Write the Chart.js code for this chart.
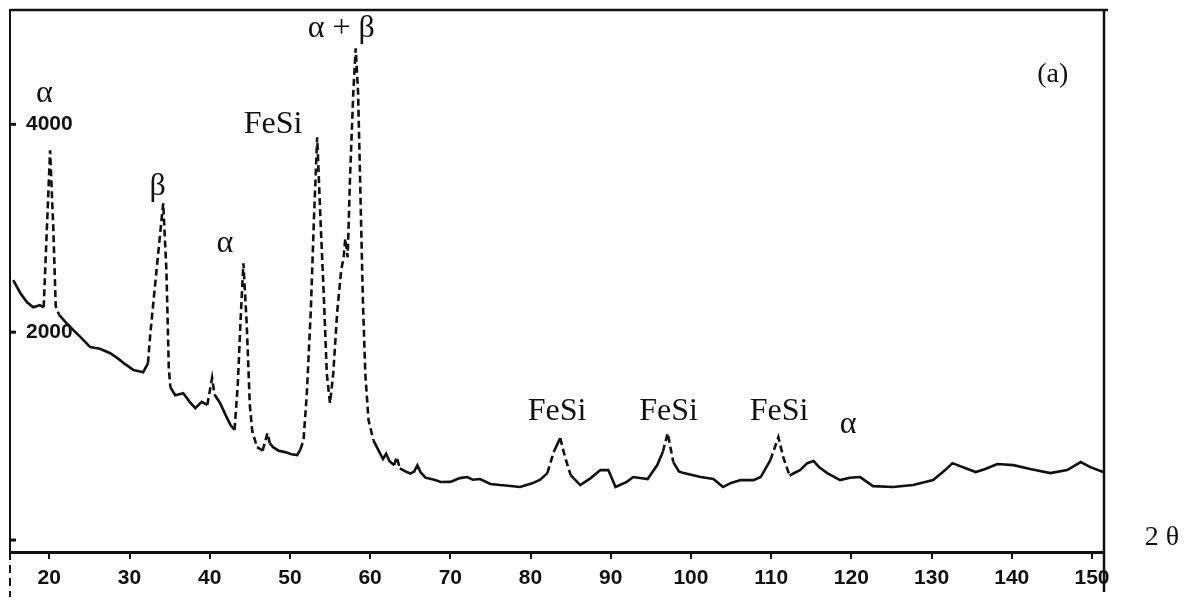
<!DOCTYPE html>
<html>
<head>
<meta charset="utf-8">
<script src="https://cdn.jsdelivr.net/npm/chart.js@4/dist/chart.umd.min.js"></script>
<style>
  html, body { margin: 0; padding: 0; background: #fff; }
  #grafico { display: block; }
</style>
</head>
<body>
<canvas id="grafico" width="1192" height="602"></canvas>
<script>
// difractograma (a): 2θ contra intensidad (cuentas)
const twoTheta = [
  15.5, 16.4, 17.2, 18.0, 18.8, 19.3, 19.7, 20.1, 20.5, 20.8, 21.2, 22.0, 23.0, 23.9, 25.1,
  26.3, 27.6, 28.5, 29.5, 30.5, 31.7, 32.3, 32.6, 33.4, 34.2, 34.6, 34.9, 35.1, 35.7, 36.7,
  37.5, 38.2, 39.0, 39.7, 40.3, 40.6, 41.3, 42.0, 42.6, 43.1, 43.5, 43.9, 44.2, 44.6, 45.0,
  45.3, 45.9, 46.6, 47.2, 47.5, 47.9, 48.6, 49.4, 50.2, 50.9, 51.3, 51.7, 52.1, 52.6, 53.0,
  53.4, 53.8, 54.2, 54.6, 55.0, 55.4, 55.9, 56.4, 56.7, 56.9, 57.2, 57.5, 57.9, 58.2, 58.5,
  58.8, 59.1, 59.4, 59.8, 60.4, 61.0, 61.6, 62.0, 62.4, 63.0, 63.3, 63.7, 64.4, 65.0, 65.5,
  65.9, 66.3, 66.9, 68.0, 68.8, 70.0, 71.2, 72.1, 72.8, 73.7, 75.0, 76.2, 77.5, 78.7, 80.3,
  81.2, 82.1, 82.9, 83.7, 84.3, 85.0, 86.2, 87.5, 88.7, 89.7, 90.6, 92.0, 92.8, 94.6, 95.8,
  96.5, 97.1, 97.8, 98.5, 99.1, 101.2, 102.8, 104.0, 105.0, 106.2, 107.8, 108.7, 109.9, 110.9, 111.5,
  112.3, 113.0, 113.6, 114.5, 115.3, 116.0, 117.0, 118.6, 119.8, 121.1, 122.7, 125.2, 127.7, 130.2, 131.7,
  132.6, 134.5, 135.5, 136.7, 138.2, 140.2, 142.3, 144.8, 146.9, 148.6, 149.8, 151.4
];
const counts = [
  2500, 2375, 2290, 2240, 2260, 2240, 3000, 3750, 3000, 2250, 2170, 2100, 2020, 1952, 1856,
  1840, 1798, 1750, 1690, 1635, 1615, 1700, 1990, 2620, 3240, 2600, 1650, 1470, 1394, 1413,
  1330, 1269, 1330, 1300, 1560, 1400, 1317, 1200, 1106, 1060, 1500, 2200, 2663, 2100, 1300,
  1050, 894, 860, 1029, 930, 894, 860, 846, 825, 817, 870, 962, 1400, 2200, 3100,
  3875, 3100, 2400, 1600, 1317, 1600, 2200, 2600, 2721, 2900, 2721, 3500, 4300, 4731, 4300,
  3300, 2300, 1600, 1154, 962, 870, 780, 830, 760, 720, 800, 690, 660, 640, 660,
  720, 650, 600, 580, 558, 560, 596, 606, 580, 587, 540, 529, 520, 510, 548,
  580, 644, 850, 981, 800, 625, 529, 596, 673, 673, 510, 560, 606, 587, 721,
  850, 1029, 750, 660, 644, 606, 587, 510, 550, 577, 577, 606, 769, 990, 800,
  620, 650, 673, 740, 760, 700, 644, 577, 600, 606, 519, 510, 529, 577, 673,
  740, 683, 654, 683, 731, 721, 683, 644, 673, 750, 702, 654
];

// etiquetas de los picos (centro en 2θ, línea base en cuentas)
const etiquetas = ['α', 'β', 'α', 'FeSi', 'α + β', 'FeSi', 'FeSi', 'FeSi', 'α', '(a)'];
const etiquetaX = [19.4, 33.5, 41.9, 47.9, 56.4, 83.3, 97.2, 111.0, 119.6, 145.1];
const etiquetaY = [4212, 3317, 2769, 3913, 4837, 1154, 1154, 1154, 1029, 4404];

// marcas del eje de intensidad
const marcasY = [0, 2000, 4000];
const textosY = ['', '2000', '4000'];

const datos = twoTheta.map((t, i) => ({ x: t, y: counts[i] }));

function sinPadding(s) {
  s.paddingTop = 0;
  s.paddingBottom = 0;
  s.paddingLeft = 0;
  s.paddingRight = 0;
}

// marco superior/derecho, marcas y textos
const textos = {
  id: "textos",
  afterDraw(chart) {
    const { ctx, chartArea: a, scales } = chart;
    ctx.save();
    ctx.strokeStyle = "#111";
    ctx.lineWidth = 2.5;
    ctx.beginPath();
    ctx.moveTo(a.left, a.top);
    ctx.lineTo(a.right + 4, a.top);
    ctx.moveTo(a.right, a.top);
    ctx.lineTo(a.right, a.bottom + 40);
    ctx.stroke();

    // prolongación punteada del eje izquierdo
    ctx.lineWidth = 2;
    ctx.setLineDash([8, 5]);
    ctx.beginPath();
    ctx.moveTo(a.left, a.bottom);
    ctx.lineTo(a.left, a.bottom + 45);
    ctx.stroke();
    ctx.setLineDash([]);

    // marcas y números del eje de intensidad
    ctx.fillStyle = "#111";
    ctx.lineWidth = 3;
    ctx.font = 'bold 21px "Liberation Sans"';
    ctx.textAlign = "left";
    ctx.textBaseline = "middle";
    marcasY.forEach(function (v, i) {
      const py = scales.y.getPixelForValue(v);
      ctx.beginPath();
      ctx.moveTo(a.left, py);
      ctx.lineTo(a.left + 6, py);
      ctx.stroke();
      if (textosY[i]) ctx.fillText(textosY[i], a.left + 16, py);
    });

    ctx.textAlign = "center";
    ctx.textBaseline = "alphabetic";
    etiquetas.forEach(function (txt, i) {
      ctx.font = txt === "(a)" ? '28px "Liberation Serif"' : '32px "Liberation Serif"';
      ctx.fillText(txt, scales.x.getPixelForValue(etiquetaX[i]), scales.y.getPixelForValue(etiquetaY[i]));
    });

    ctx.font = '28px "Liberation Serif"';
    ctx.textBaseline = "middle";
    ctx.fillText("2 θ", a.right + 58, a.bottom - 14);
    ctx.restore();
  },
};

const ctx = document.getElementById("grafico").getContext("2d");

new Chart(ctx, {
  type: "scatter",
  data: {
    datasets: [
      {
        data: datos,
        showLine: true,
        borderColor: "#111",
        borderWidth: 2.6,
        pointRadius: 0,
        tension: 0,
        // los flancos empinados salen entrecortados en el original
        segment: {
          borderDash: (s) =>
            Math.abs(s.p1.y - s.p0.y) > 2.5 * Math.abs(s.p1.x - s.p0.x) ? [7, 4] : undefined,
        },
      },
    ],
  },
  options: {
    responsive: false,
    animation: false,
    layout: { padding: { top: 10, right: 88, left: 0, bottom: 0 } },
    plugins: {
      legend: { display: false },
      tooltip: { enabled: false },
    },
    scales: {
      x: {
        type: "linear",
        min: 15.1,
        max: 151.5,
        afterFit: (s) => { s.height = 50; sinPadding(s); },
        border: { color: "#111", width: 3 },
        grid: { drawOnChartArea: false, color: "#111", lineWidth: 2, tickLength: 7 },
        ticks: {
          stepSize: 10,
          includeBounds: false,
          autoSkip: false,
          maxRotation: 0,
          maxTicksLimit: 20,
          padding: 7,
          color: "#111",
          font: { family: "Liberation Sans", size: 21, weight: "bold" },
        },
      },
      y: {
        min: -115,
        max: 5100,
        afterFit: (s) => { s.width = 10; sinPadding(s); },
        border: { color: "#111", width: 2, dash: [9, 5] },
        grid: { display: false },
        ticks: { display: false },
      },
    },
  },
  plugins: [textos],
});
</script>
</body>
</html>
